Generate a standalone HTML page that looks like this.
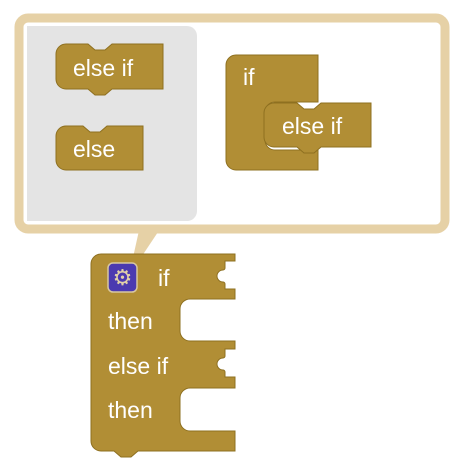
<!DOCTYPE html>
<html><head><style>body{margin:0;background:#fff}svg{display:block}text{font-family:"Liberation Sans",sans-serif;fill:#fff;font-size:23px}</style></head><body>
<svg width="472" height="472" viewBox="0 0 472 472">
<rect x="19" y="18" width="426" height="211" rx="9" fill="#fff" stroke="#e6d1a6" stroke-width="9"/>
<polygon points="140,226 162,226 138,262 132,262" fill="#e6d1a6"/>
<path d="M27,26 H187 a10,10 0 0 1 10,10 V211 a10,10 0 0 1 -10,10 H27 Z" fill="#e4e4e4"/>
<g fill="#b18e35" stroke="#8e7020" stroke-width="1">
<path d="M66,44 H88 l7,6 h10 l7,-6 H163 V89 H112 l-7,6 h-10 l-7,-6 H66 a10,10 0 0 1 -10,-10 V54 a10,10 0 0 1 10,-10 Z"/>
<path d="M66,126 H83 l7,6 h10 l7,-6 H143 V170 H66 a10,10 0 0 1 -10,-10 V136 a10,10 0 0 1 10,-10 Z"/>
<path d="M236,55 H318 V102 H275 a10,10 0 0 0 -10,10 V140 a10,10 0 0 0 10,10 H318 V170 H236 a10,10 0 0 1 -10,-10 V65 a10,10 0 0 1 10,-10 Z"/>
<path d="M274,103 H297 l7,6 h10 l7,-6 H371 V147 H321 l-7,6 h-10 l-7,-6 H274 a10,10 0 0 1 -10,-10 V113 a10,10 0 0 1 10,-10 Z"/>
<path d="M101,254 H235 V261 h-10 v7 a2,2 0 0 1 -2,2 a6,6 0 0 0 0,12 a2,2 0 0 1 2,2 v5 h10 V299 H190 a10,10 0 0 0 -10,10 V331 a10,10 0 0 0 10,10 H235 V349 h-10 v7 a2,2 0 0 1 -2,2 a6,6 0 0 0 0,12 a2,2 0 0 1 2,2 v5 h10 V388 H190 a10,10 0 0 0 -10,10 V421 a10,10 0 0 0 10,10 H235 V451 H138 l-7,6 h-10 l-7,-6 H101 a10,10 0 0 1 -10,-10 V264 a10,10 0 0 1 10,-10 Z"/>
</g>
<rect x="108" y="263" width="29" height="29" rx="5" fill="#4b3ab0" stroke="#d8c7a0" stroke-width="1.5"/>
<text x="122.5" y="285" text-anchor="middle" style="fill:#e0d0a8;font-size:22px">⚙</text>
<text x="73" y="76">else if</text>
<text x="73" y="157">else</text>
<text x="243" y="85">if</text>
<text x="282" y="134">else if</text>
<text x="158" y="286">if</text>
<text x="108" y="329">then</text>
<text x="108" y="374">else if</text>
<text x="108" y="418">then</text>
</svg>
</body></html>
